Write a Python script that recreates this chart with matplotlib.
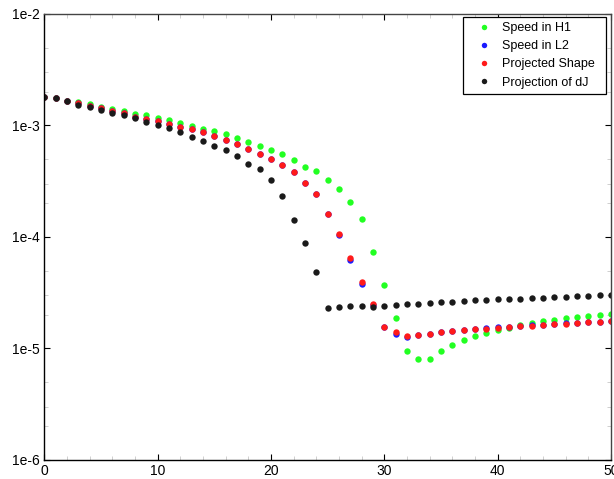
import numpy as np
import matplotlib
matplotlib.use("Agg")
import matplotlib.pyplot as plt
from matplotlib.ticker import FixedLocator, NullFormatter, MultipleLocator, LogLocator


# ── Data ──────────────────────────────────────────────────────────────────────

ITER = list(range(51))

SPEED_H1 = [
    1.81e-3, 1.75e-3, 1.66e-3, 1.63e-3, 1.55e-3, 1.48e-3, 1.41e-3, 1.34e-3, 1.28e-3, 1.23e-3,
    1.17e-3, 1.11e-3, 1.05e-3, 9.84e-4, 9.36e-4, 8.87e-4, 8.34e-4, 7.78e-4, 7.07e-4, 6.55e-4,
    6.00e-4, 5.52e-4, 4.91e-4, 4.27e-4, 3.88e-4, 3.23e-4, 2.68e-4, 2.05e-4, 1.44e-4, 7.38e-5,
    3.69e-5, 1.89e-5, 9.50e-6, 8.00e-6, 8.10e-6, 9.44e-6, 1.07e-5, 1.19e-5, 1.29e-5, 1.38e-5,
    1.47e-5, 1.54e-5, 1.62e-5, 1.69e-5, 1.75e-5, 1.81e-5, 1.87e-5, 1.91e-5, 1.95e-5, 1.99e-5,
    2.04e-5,
]

SPEED_L2 = [
    1.81e-3, 1.75e-3, 1.66e-3, 1.58e-3, 1.51e-3, 1.43e-3, 1.35e-3, 1.29e-3, 1.20e-3, 1.14e-3,
    1.10e-3, 1.04e-3, 9.75e-4, 9.25e-4, 8.69e-4, 8.00e-4, 7.46e-4, 6.83e-4, 6.19e-4, 5.58e-4,
    4.98e-4, 4.40e-4, 3.83e-4, 3.03e-4, 2.43e-4, 1.60e-4, 1.04e-4, 6.20e-5, 3.80e-5, 2.45e-5,
    1.56e-5, 1.36e-5, 1.26e-5, 1.31e-5, 1.36e-5, 1.40e-5, 1.44e-5, 1.47e-5, 1.50e-5, 1.52e-5,
    1.55e-5, 1.57e-5, 1.60e-5, 1.62e-5, 1.64e-5, 1.66e-5, 1.68e-5, 1.70e-5, 1.72e-5, 1.73e-5,
    1.75e-5,
]

PROJ_SHAPE = [
    1.81e-3, 1.75e-3, 1.66e-3, 1.58e-3, 1.51e-3, 1.43e-3, 1.35e-3, 1.29e-3, 1.20e-3, 1.14e-3,
    1.10e-3, 1.04e-3, 9.75e-4, 9.25e-4, 8.69e-4, 8.00e-4, 7.46e-4, 6.83e-4, 6.19e-4, 5.58e-4,
    4.98e-4, 4.40e-4, 3.83e-4, 3.03e-4, 2.43e-4, 1.60e-4, 1.06e-4, 6.44e-5, 3.93e-5, 2.51e-5,
    1.56e-5, 1.40e-5, 1.29e-5, 1.32e-5, 1.36e-5, 1.40e-5, 1.44e-5, 1.47e-5, 1.49e-5, 1.51e-5,
    1.53e-5, 1.55e-5, 1.58e-5, 1.60e-5, 1.62e-5, 1.65e-5, 1.67e-5, 1.69e-5, 1.72e-5, 1.73e-5,
    1.75e-5,
]

PROJ_DJ = [
    1.81e-3, 1.75e-3, 1.66e-3, 1.53e-3, 1.46e-3, 1.38e-3, 1.30e-3, 1.25e-3, 1.16e-3, 1.075e-3,
    1.01e-3, 9.55e-4, 8.74e-4, 7.94e-4, 7.26e-4, 6.55e-4, 6.00e-4, 5.33e-4, 4.54e-4, 4.05e-4,
    3.25e-4, 2.35e-4, 1.43e-4, 8.89e-5, 4.85e-5, 2.29e-5, 2.34e-5, 2.39e-5, 2.39e-5, 2.37e-5,
    2.41e-5, 2.44e-5, 2.49e-5, 2.52e-5, 2.56e-5, 2.60e-5, 2.61e-5, 2.65e-5, 2.70e-5, 2.72e-5,
    2.76e-5, 2.78e-5, 2.80e-5, 2.84e-5, 2.86e-5, 2.88e-5, 2.92e-5, 2.94e-5, 2.98e-5, 3.02e-5,
    3.04e-5,
]

SERIES = [
    ("Speed in H1", SPEED_H1, "#22ff22"),
    ("Speed in L2", SPEED_L2, "#1a1aff"),
    ("Projected Shape", PROJ_SHAPE, "#ff1a1a"),
    ("Projection of dJ", PROJ_DJ, "#1a1a1a"),
]

X_TICKS = [0, 10, 20, 30, 40, 50]
Y_TICKS = [1e-6, 1e-5, 1e-4, 1e-3, 1e-2]
Y_LABELS = ["1e-6", "1e-5", "1e-4", "1e-3", "1e-2"]


# ── Plot ──────────────────────────────────────────────────────────────────────

plt.rcParams["font.family"] = ["Liberation Sans", "DejaVu Sans"]
plt.rcParams["font.size"] = 10

fig = plt.figure(figsize=(6.14, 4.79), dpi=100)
ax = fig.add_axes([0.0722, 0.0397, 0.9229, 0.9311])

for label, values, color in SERIES:
    ax.plot(ITER, values, linestyle="none", marker="o", markersize=4.6,
            markeredgewidth=0, color=color, label=label)

ax.set_yscale("log")
ax.set_xlim(0, 50)
ax.set_ylim(1e-6, 1e-2)

ax.xaxis.set_major_locator(FixedLocator(X_TICKS))
ax.set_xticklabels([str(t) for t in X_TICKS])
ax.xaxis.set_minor_locator(MultipleLocator(2))
ax.yaxis.set_major_locator(FixedLocator(Y_TICKS))
ax.set_yticklabels(Y_LABELS)
ax.yaxis.set_minor_locator(LogLocator(base=10, subs=(2, 3, 5)))
ax.yaxis.set_minor_formatter(NullFormatter())

ax.tick_params(which="major", direction="in", length=4, width=0.8, color="black",
               top=True, right=True, labelsize=10, pad=3)
ax.tick_params(which="minor", direction="in", length=3, width=0.6, color="#c8c8c8",
               top=True, right=True)

for side in ["left", "bottom"]:
    ax.spines[side].set_color("black")
    ax.spines[side].set_linewidth(1.0)
for side in ["top", "right"]:
    ax.spines[side].set_color("#444444")
    ax.spines[side].set_linewidth(1.0)

# legend box stretched over the same span as in the reference
leg = ax.legend(loc="upper left", bbox_to_anchor=(0.7388, 0.0, 0.2523, 0.9933),
                mode="expand", borderaxespad=0, fontsize=9, fancybox=False,
                framealpha=1, edgecolor="black", handlelength=2.5,
                handletextpad=0.2, labelspacing=0.5, borderpad=0.4,
                markerscale=0.85)
leg.get_frame().set_linewidth(0.9)

fig.savefig("out.png", dpi=100)
